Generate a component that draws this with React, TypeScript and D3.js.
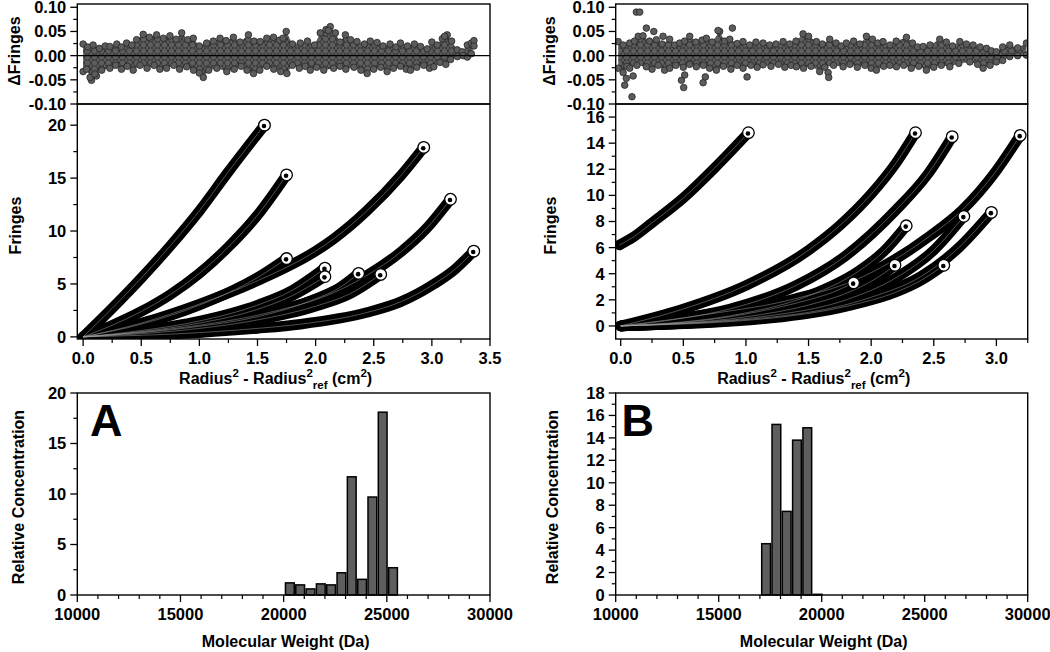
import React from 'react';
import * as d3 from 'd3';

type P = [number, number];

// ---------- tick values ----------
const resTicks = [-0.1, -0.05, 0, 0.05, 0.1];
const radiusTicksA = [0, 0.5, 1, 1.5, 2, 2.5, 3, 3.5];
const radiusTicksB = [0, 0.5, 1, 1.5, 2, 2.5, 3];
const fringeTicksA = [0, 5, 10, 15, 20];
const fringeTicksB = [0, 2, 4, 6, 8, 10, 12, 14, 16];
const mwTicks = [10000, 15000, 20000, 25000, 30000];
const concTicksA = [0, 5, 10, 15, 20];
const concTicksB = [0, 2, 4, 6, 8, 10, 12, 14, 16, 18];

// ---------- molecular weight distributions ----------
const molWeightA = [20300, 20800, 21300, 21800, 22300, 22800, 23300, 23800, 24300, 24800, 25300];
const concA = [1.2, 1.0, 0.6, 1.1, 1.0, 2.2, 11.7, 1.55, 9.7, 18.1, 2.7];
const molWeightB = [17300, 17800, 18300, 18800, 19300, 19800];
const concB = [4.57, 15.2, 7.45, 13.8, 14.9, 0.06];

// ---------- fringe curves (radius^2 - ref, fringes) ----------
const fringeCurvesA: P[][] = [
  [[0, 0], [0.25, 2.7], [0.5, 5.55], [0.75, 8.6], [1.0, 11.9], [1.25, 15.6], [1.56, 20.0]],
  [[0, 0], [0.25, 1.1], [0.5, 2.4], [0.75, 4.0], [1.0, 6.0], [1.25, 8.5], [1.5, 11.5], [1.75, 15.3]],
  [[0, 0], [0.5, 1.3], [1.0, 3.1], [1.5, 5.3], [2.0, 8.1], [2.16, 9.3], [2.44, 11.9], [2.73, 15.2], [2.93, 17.9]],
  [[0, 0], [0.5, 1.2], [1.0, 3.0], [1.5, 5.6], [1.75, 7.4]],
  [[0, 0], [0.5, 0.6], [1.0, 1.5], [1.5, 3.0], [1.8, 4.4], [2.08, 6.5]],
  [[0, 0], [0.5, 0.5], [1.0, 1.3], [1.5, 2.6], [1.8, 3.9], [2.08, 5.7]],
  [[0, 0], [0.5, 0.4], [1.0, 1.0], [1.5, 1.9], [2.0, 3.6], [2.2, 4.6], [2.37, 6.0]],
  [[0, 0], [0.5, 0.3], [1.0, 0.8], [1.5, 1.6], [2.0, 2.9], [2.3, 4.1], [2.56, 5.9]],
  [[0, 0], [0.5, 0.45], [1.0, 1.1], [1.6, 2.3], [2.16, 4.2], [2.44, 5.8], [2.73, 8.0], [2.95, 10.2], [3.16, 13.0]],
  [[0, 0], [1.0, 0.4], [1.5, 0.8], [1.87, 1.2], [2.44, 2.3], [2.73, 3.3], [3.02, 5.0], [3.2, 6.4], [3.36, 8.1]],
];
const fringeCurvesB: P[][] = [
  [[-0.01, 6.2], [0.1, 6.8], [0.25, 7.9], [0.5, 9.8], [0.75, 12.1], [1.02, 14.8]],
  [[0, 0], [0.5, 1.3], [1.0, 3.1], [1.5, 5.8], [1.75, 7.7], [2.0, 10.1], [2.2, 12.5], [2.354, 14.8]],
  [[0, 0], [0.5, 0.6], [0.87, 1.3], [1.4, 3.1], [1.8, 5.4], [2.2, 8.9], [2.45, 11.6], [2.647, 14.5]],
  [[0, 0], [0.7, 0.9], [1.4, 2.1], [1.94, 3.8], [2.47, 6.9], [2.73, 8.9], [3.0, 11.9], [3.19, 14.6]],
  [[0, 0], [1.0, 1.0], [1.5, 2.3], [1.9, 4.2], [2.1, 5.7], [2.28, 7.67]],
  [[0, 0], [1.2, 0.8], [1.8, 2.0], [2.2, 3.7], [2.5, 5.8], [2.74, 8.4]],
  [[0, 0], [1.4, 0.9], [2.0, 2.2], [2.4, 3.8], [2.7, 6.0], [2.96, 8.7]],
  [[0, 0], [1.0, 0.7], [1.5, 1.6], [1.85, 2.7], [2.05, 3.7], [2.19, 4.65]],
  [[0, 0], [1.2, 0.6], [1.8, 1.5], [2.2, 2.6], [2.4, 3.5], [2.58, 4.65]],
  [[0, 0], [0.8, 0.6], [1.2, 1.3], [1.5, 2.0], [1.7, 2.6], [1.86, 3.3]],
];

// ---------- residual band edges and outliers ----------
const resUpperA: P[] = [
  [0, 0.024], [0.04, 0.018], [0.086, 0.022], [0.14, 0.015], [0.19, 0.02], [0.23, 0.019], [0.29, 0.024], [0.33, 0.018],
  [0.374, 0.026], [0.42, 0.022], [0.46, 0.033], [0.517, 0.044], [0.57, 0.038], [0.632, 0.043], [0.69, 0.036], [0.747, 0.041],
  [0.8, 0.034], [0.848, 0.047], [0.9, 0.033], [0.948, 0.036], [1.0, 0.02], [1.063, 0.026], [1.12, 0.03], [1.178, 0.036],
  [1.23, 0.031], [1.293, 0.038], [1.35, 0.028], [1.422, 0.043], [1.47, 0.03], [1.523, 0.029], [1.58, 0.036], [1.638, 0.038],
  [1.69, 0.032], [1.747, 0.05], [1.8, 0.024], [1.868, 0.026], [1.93, 0.03], [1.99, 0.022], [2.04, 0.047], [2.09, 0.054],
  [2.126, 0.06], [2.17, 0.047], [2.21, 0.028], [2.256, 0.043], [2.3, 0.033], [2.356, 0.029], [2.42, 0.024], [2.47, 0.03],
  [2.529, 0.027], [2.58, 0.02], [2.64, 0.024], [2.69, 0.018], [2.73, 0.026], [2.79, 0.02], [2.85, 0.024], [2.902, 0.019],
  [2.96, 0.014], [3.0, 0.028], [3.046, 0.022], [3.09, 0.035], [3.132, 0.043], [3.17, 0.03], [3.218, 0.012], [3.26, 0.008],
  [3.305, 0.022], [3.34, 0.026], [3.362, 0.031],
];
const resLowerA: P[] = [
  [0, -0.033], [0.03, -0.028], [0.072, -0.051], [0.115, -0.042], [0.16, -0.03], [0.23, -0.026], [0.28, -0.02], [0.33, -0.028],
  [0.38, -0.022], [0.431, -0.03], [0.49, -0.02], [0.55, -0.026], [0.61, -0.02], [0.66, -0.028], [0.718, -0.026], [0.78, -0.02],
  [0.83, -0.028], [0.891, -0.023], [0.95, -0.03], [1.0, -0.036], [1.034, -0.045], [1.08, -0.03], [1.15, -0.026], [1.236, -0.033],
  [1.3, -0.028], [1.36, -0.022], [1.41, -0.03], [1.466, -0.037], [1.52, -0.03], [1.58, -0.022], [1.64, -0.028], [1.7, -0.033],
  [1.753, -0.037], [1.8, -0.02], [1.86, -0.026], [1.91, -0.022], [1.954, -0.03], [2.01, -0.024], [2.07, -0.03], [2.155, -0.026],
  [2.21, -0.022], [2.26, -0.028], [2.33, -0.024], [2.39, -0.03], [2.443, -0.037], [2.5, -0.028], [2.56, -0.024], [2.615, -0.033],
  [2.67, -0.026], [2.73, -0.022], [2.78, -0.028], [2.816, -0.03], [2.87, -0.024], [2.93, -0.02], [2.98, -0.026], [3.017, -0.023],
  [3.07, -0.014], [3.12, -0.018], [3.161, -0.008], [3.22, -0.002], [3.27, 0.0], [3.305, -0.003], [3.34, 0.004], [3.362, 0.02],
];
const resOutliersA: P[] = [[0.06, -0.045], [0.1, -0.038], [1.72, 0.036], [2.11, 0.052], [3.11, 0.04]];

const resUpperB: P[] = [
  [-0.02, 0.029], [0.02, 0.022], [0.072, 0.026], [0.11, 0.03], [0.14, 0.04], [0.178, 0.041], [0.23, 0.03], [0.285, 0.033],
  [0.33, 0.024], [0.391, 0.034], [0.43, 0.022], [0.471, 0.026], [0.51, 0.03], [0.551, 0.04], [0.6, 0.028], [0.65, 0.032],
  [0.684, 0.036], [0.73, 0.028], [0.79, 0.05], [0.83, 0.03], [0.871, 0.034], [0.93, 0.025], [0.977, 0.029], [1.03, 0.022],
  [1.08, 0.028], [1.137, 0.026], [1.19, 0.022], [1.24, 0.024], [1.297, 0.029], [1.35, 0.024], [1.4, 0.03], [1.456, 0.045],
  [1.5, 0.04], [1.563, 0.029], [1.61, 0.024], [1.669, 0.034], [1.72, 0.026], [1.76, 0.02], [1.802, 0.026], [1.86, 0.03],
  [1.91, 0.024], [1.962, 0.04], [2.01, 0.034], [2.053, 0.026], [2.095, 0.029], [2.15, 0.022], [2.2, 0.03], [2.282, 0.038],
  [2.33, 0.026], [2.37, 0.018], [2.415, 0.019], [2.47, 0.022], [2.548, 0.034], [2.6, 0.028], [2.65, 0.02], [2.708, 0.029],
  [2.76, 0.024], [2.814, 0.022], [2.87, 0.018], [2.921, 0.015], [2.96, 0.01], [3.0, 0.008], [3.05, 0.018], [3.107, 0.022],
  [3.17, 0.016], [3.24, 0.026],
];
const resLowerB: P[] = [
  [-0.02, -0.026], [0.019, -0.035], [0.05, -0.022], [0.072, -0.026], [0.13, -0.02], [0.205, -0.023], [0.25, -0.028], [0.3, -0.02],
  [0.35, -0.03], [0.391, -0.026], [0.44, -0.02], [0.5, -0.024], [0.55, -0.018], [0.604, -0.023], [0.66, -0.02], [0.71, -0.026],
  [0.764, -0.03], [0.82, -0.022], [0.88, -0.028], [0.93, -0.02], [0.977, -0.026], [1.04, -0.02], [1.09, -0.024], [1.137, -0.019],
  [1.2, -0.022], [1.26, -0.018], [1.31, -0.024], [1.36, -0.02], [1.403, -0.023], [1.46, -0.026], [1.52, -0.022], [1.589, -0.033],
  [1.63, -0.024], [1.7, -0.02], [1.776, -0.023], [1.83, -0.018], [1.89, -0.024], [1.95, -0.02], [2.0, -0.026], [2.042, -0.03],
  [2.1, -0.022], [2.15, -0.02], [2.202, -0.023], [2.26, -0.02], [2.32, -0.026], [2.38, -0.022], [2.441, -0.03], [2.5, -0.024],
  [2.56, -0.02], [2.628, -0.023], [2.7, -0.016], [2.788, -0.013], [2.85, -0.018], [2.894, -0.026], [2.95, -0.02], [3.0, -0.013],
  [3.05, -0.01], [3.107, -0.002], [3.17, 0.0], [3.24, 0.001],
];
const resOutliersB: P[] = [
  [0.125, 0.09], [0.152, 0.09], [0.205, 0.057], [0.264, 0.05], [0.338, 0.04], [0.032, -0.061], [0.045, -0.047],
  [0.09, -0.085], [0.099, -0.042], [0.485, -0.051], [0.503, -0.066], [0.511, -0.04], [0.658, -0.056], [0.676, -0.044],
  [0.777, 0.052], [0.892, 0.057], [1.009, -0.044], [1.656, -0.035], [1.661, -0.045],
];

// ---------- layout ----------
const FONT = "'Liberation Sans', Arial, Helvetica, sans-serif";
const RES_TOP = 4, RES_BOT = 104, MAIN_TOP = 104, MAIN_BOT = 339, BAR_TOP = 393, BAR_BOT = 595;

interface PanelCfg {
  key: string;
  left: number; right: number;
  resUpper: P[]; resLower: P[]; resOut: P[];
  xDomain: [number, number]; yDomain: [number, number];
  xTicks: number[]; yTicks: number[]; yMinorStep: number;
  curves: P[][];
  mw: number[]; conc: number[]; concDomain: [number, number]; concTicks: number[]; concMinorStep: number;
  titleX: number; relTitleX: number; letterX: number;
}

const panels: PanelCfg[] = [
  {
    key: 'A', left: 77.3, right: 490,
    resUpper: resUpperA, resLower: resLowerA, resOut: resOutliersA,
    xDomain: [-0.05, 3.5], yDomain: [-0.2, 22],
    xTicks: radiusTicksA, yTicks: fringeTicksA, yMinorStep: 2.5,
    curves: fringeCurvesA,
    mw: molWeightA, conc: concA, concDomain: [0, 20], concTicks: concTicksA, concMinorStep: 2.5,
    titleX: 19.5, relTitleX: 24, letterX: 90,
  },
  {
    key: 'B', left: 615.7, right: 1027.7,
    resUpper: resUpperB, resLower: resLowerB, resOut: resOutliersB,
    xDomain: [-0.04, 3.25], yDomain: [-1, 17],
    xTicks: radiusTicksB, yTicks: fringeTicksB, yMinorStep: 1,
    curves: fringeCurvesB,
    mw: molWeightB, conc: concB, concDomain: [0, 18], concTicks: concTicksB, concMinorStep: 1,
    titleX: 555, relTitleX: 558, letterX: 621.5,
  },
];

const MAJ = 7, MIN = 4;
const tickFont = 16.5;
const titleFont = 16;

function YAxis({ scale, x, ticks, minor, fmt }: { scale: d3.ScaleLinear<number, number>; x: number; ticks: number[]; minor: number[]; fmt: (v: number) => string }) {
  return (
    <g>
      {minor.map((v, i) => <line key={'m' + i} x1={x - MIN} x2={x} y1={scale(v)} y2={scale(v)} stroke="#000" strokeWidth={1.2} />)}
      {ticks.map((v, i) => (
        <g key={i}>
          <line x1={x - MAJ} x2={x} y1={scale(v)} y2={scale(v)} stroke="#000" strokeWidth={1.3} />
          <text x={x - 11} y={scale(v)} dy="0.36em" textAnchor="end" fontSize={tickFont} fontWeight="bold" fontFamily={FONT}>{fmt(v)}</text>
        </g>
      ))}
    </g>
  );
}

function XAxis({ scale, y, ticks, minor, fmt }: { scale: d3.ScaleLinear<number, number>; y: number; ticks: number[]; minor: number[]; fmt: (v: number) => string }) {
  return (
    <g>
      {minor.map((v, i) => <line key={'m' + i} x1={scale(v)} x2={scale(v)} y1={y} y2={y + MIN} stroke="#000" strokeWidth={1.2} />)}
      {ticks.map((v, i) => (
        <g key={i}>
          <line x1={scale(v)} x2={scale(v)} y1={y} y2={y + MAJ} stroke="#000" strokeWidth={1.3} />
          <text x={scale(v)} y={y + 25} textAnchor="middle" fontSize={tickFont} fontWeight="bold" fontFamily={FONT}>{fmt(v)}</text>
        </g>
      ))}
    </g>
  );
}

function Panel({ cfg }: { cfg: PanelCfg }) {
  const { left, right } = cfg;
  const cx = (left + right) / 2;

  // residuals
  const xr = d3.scaleLinear().domain(cfg.xDomain).range([left, right]);
  const yr = d3.scaleLinear().domain([-0.1, 0.1068]).range([RES_BOT, RES_TOP]);
  const bandPts = [...cfg.resUpper, ...cfg.resLower.slice().reverse()];
  const band = d3.line<P>().x(d => xr(d[0])).y(d => yr(d[1])).curve(d3.curveLinearClosed)(bandPts) || '';
  const resMinor = d3.range(-0.1, 0.1001, 0.025).filter(v => Math.abs(Math.round(v * 40) % 2) === 1);

  // main fringes
  const xm = xr;
  const ym = d3.scaleLinear().domain(cfg.yDomain).range([MAIN_BOT, MAIN_TOP]);
  const line = d3.line<P>().x(d => xm(d[0])).y(d => ym(d[1])).curve(d3.curveMonotoneX);
  const xMinor = d3.range(0.25, cfg.xDomain[1] + 0.001, 0.5);
  const yMinor = d3.range(cfg.yMinorStep, cfg.yDomain[1], cfg.yMinorStep * 2);

  // bar chart
  const xb = d3.scaleLinear().domain([10000, 30000]).range([left, right]);
  const yb = d3.scaleLinear().domain(cfg.concDomain).range([BAR_BOT, BAR_TOP]);
  const bw = xb(10425) - xb(10000);
  const mwMinor = d3.range(11000, 30000, 1000).filter(v => v % 5000 !== 0);
  const concMinor = d3.range(cfg.concMinorStep, cfg.concDomain[1], cfg.concMinorStep * 2);

  const clipId = 'clip' + cfg.key;
  const resClip = 'rclip' + cfg.key;

  return (
    <g>
      <defs>
        <clipPath id={clipId}><rect x={left} y={MAIN_TOP} width={right - left} height={MAIN_BOT - MAIN_TOP} /></clipPath>
        <clipPath id={resClip}><rect x={left} y={RES_TOP} width={right - left} height={RES_BOT - RES_TOP} /></clipPath>
      </defs>

      {/* residual panel */}
      <g clipPath={`url(#${resClip})`}>
        <path d={band} fill="url(#dotpat)" stroke="none" />
        {[...cfg.resUpper, ...cfg.resLower, ...cfg.resOut].map((d, i) => (
          <circle key={i} cx={xr(d[0])} cy={yr(d[1])} r={3.3} fill="#5c5c5c" stroke="#262626" strokeWidth={0.8} />
        ))}
        <line x1={left} x2={right} y1={yr(0)} y2={yr(0)} stroke="#000" strokeWidth={1.3} />
      </g>
      <rect x={left} y={RES_TOP} width={right - left} height={RES_BOT - RES_TOP} fill="none" stroke="#000" strokeWidth={1.4} />
      <YAxis scale={yr} x={left} ticks={resTicks} minor={resMinor} fmt={v => d3.format('.2f')(v).replace('−', '-')} />
      <text transform={`translate(${cfg.titleX},${(RES_TOP + RES_BOT) / 2 - 3}) rotate(-90)`} textAnchor="middle" fontSize={titleFont} fontWeight="bold" fontFamily={FONT}>ΔFringes</text>

      {/* main fringes panel */}
      <g clipPath={`url(#${clipId})`}>
        {cfg.curves.map((c, i) => (
          <path key={'b' + i} d={line(c) || ''} fill="none" stroke="#000" strokeWidth={10.5} strokeLinecap="round" />
        ))}
        {cfg.curves.map((c, i) => (
          <path key={'c' + i} d={line(c) || ''} fill="none" stroke="#a0a0a0" strokeWidth={1} strokeOpacity={0.5} />
        ))}
        {cfg.curves.map((c, i) => {
          const e = c[c.length - 1];
          return (
            <g key={'e' + i}>
              <circle cx={xm(e[0])} cy={ym(e[1])} r={5.8} fill="#fff" stroke="#000" strokeWidth={1.3} />
              <circle cx={xm(e[0]) - 0.5} cy={ym(e[1]) + 0.8} r={2.3} fill="#000" />
            </g>
          );
        })}
      </g>
      <rect x={left} y={MAIN_TOP} width={right - left} height={MAIN_BOT - MAIN_TOP} fill="none" stroke="#000" strokeWidth={1.4} />
      <YAxis scale={ym} x={left} ticks={cfg.yTicks} minor={yMinor} fmt={v => String(v)} />
      <XAxis scale={xm} y={MAIN_BOT} ticks={cfg.xTicks} minor={xMinor} fmt={v => d3.format('.1f')(v)} />
      <text transform={`translate(${cfg.titleX + 1},${(MAIN_TOP + MAIN_BOT) / 2 + 4}) rotate(-90)`} textAnchor="middle" fontSize={titleFont} fontWeight="bold" fontFamily={FONT}>Fringes</text>
      <text x={cx - 8} y={384} textAnchor="middle" fontSize={titleFont} fontWeight="bold" fontFamily={FONT}>
        Radius<tspan fontSize={11.5} dy={-7}>2</tspan><tspan dy={7}> - Radius</tspan><tspan fontSize={11.5} dy={-7}>2</tspan><tspan fontSize={11.5} dy={12}>ref</tspan><tspan dy={-5}> (cm</tspan><tspan fontSize={11.5} dy={-7}>2</tspan><tspan dy={7}>)</tspan>
      </text>

      {/* molecular weight distribution */}
      {cfg.mw.map((m, i) => (
        <rect key={i} x={xb(m) - bw / 2} y={yb(cfg.conc[i])} width={bw} height={yb(0) - yb(cfg.conc[i])} fill="#5e5e5e" stroke="#000" strokeWidth={1.5} />
      ))}
      <rect x={left} y={BAR_TOP} width={right - left} height={BAR_BOT - BAR_TOP} fill="none" stroke="#000" strokeWidth={1.4} />
      <YAxis scale={yb} x={left} ticks={cfg.concTicks} minor={concMinor} fmt={v => String(v)} />
      <XAxis scale={xb} y={BAR_BOT} ticks={mwTicks} minor={mwMinor} fmt={v => String(v)} />
      <text transform={`translate(${cfg.relTitleX},${(BAR_TOP + BAR_BOT) / 2 + 3}) rotate(-90)`} textAnchor="middle" fontSize={titleFont} fontWeight="bold" fontFamily={FONT}>Relative Concentration</text>
      <text x={cx + 2} y={647} textAnchor="middle" fontSize={titleFont} fontWeight="bold" fontFamily={FONT}>Molecular Weight (Da)</text>
      <text x={cfg.letterX} y={436} fontSize={45} fontWeight="bold" fontFamily={FONT}>{cfg.key}</text>
    </g>
  );
}

export default function App() {
  return (
    <svg width={1050} height={652} style={{ position: 'absolute', left: 0, top: 0, background: '#fff' }}>
      <defs>
        <pattern id="dotpat" width={7} height={6} patternUnits="userSpaceOnUse">
          <rect width={7} height={6} fill="#4e4e4e" />
          <circle cx={0} cy={0} r={3.1} fill="#5e5e5e" stroke="#2a2a2a" strokeWidth={0.7} />
          <circle cx={7} cy={0} r={3.1} fill="#5e5e5e" stroke="#2a2a2a" strokeWidth={0.7} />
          <circle cx={0} cy={6} r={3.1} fill="#5e5e5e" stroke="#2a2a2a" strokeWidth={0.7} />
          <circle cx={7} cy={6} r={3.1} fill="#5e5e5e" stroke="#2a2a2a" strokeWidth={0.7} />
          <circle cx={3.5} cy={3} r={3.1} fill="#5e5e5e" stroke="#2a2a2a" strokeWidth={0.7} />
        </pattern>
      </defs>
      <rect width={1050} height={652} fill="#fff" />
      {panels.map(p => <Panel key={p.key} cfg={p} />)}
    </svg>
  );
}
